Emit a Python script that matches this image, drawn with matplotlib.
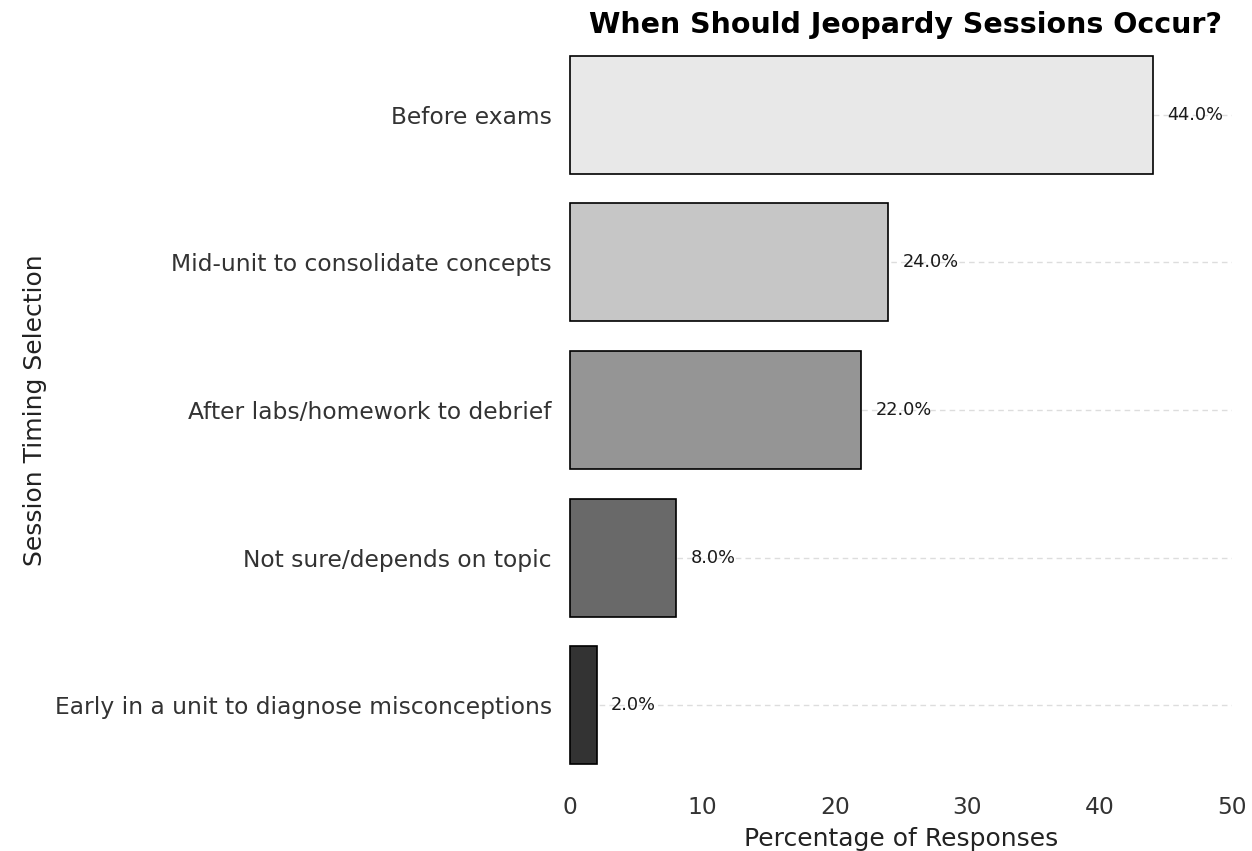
import matplotlib
matplotlib.use("Agg")
import matplotlib.pyplot as plt

categories = [
    "Early in a unit to diagnose misconceptions",
    "Not sure/depends on topic",
    "After labs/homework to debrief",
    "Mid-unit to consolidate concepts",
    "Before exams",
]
percentages = [2.0, 8.0, 22.0, 24.0, 44.0]
bar_colors = ["#333333", "#696969", "#959595", "#c6c6c6", "#e8e8e8"]
x_ticks = [0, 10, 20, 30, 40, 50]

fig = plt.figure(figsize=(12.52, 8.51), dpi=100)
ax = fig.add_axes([0.4553, 0.0846, 0.5287, 0.8672])

ypos = list(range(len(categories)))
bars = ax.barh(ypos, percentages, height=0.8, color=bar_colors,
               edgecolor="black", linewidth=1.2, zorder=3)
for b in bars:
    b.set_clip_on(False)

for y, v in zip(ypos, percentages):
    ax.text(v + 1.1, y, f"{v:.1f}%", va="center", ha="left",
            fontsize=12.8, color="#1a1a1a", zorder=4)

ax.set_xlim(0, 50)
ax.set_ylim(-0.5, len(categories) - 0.5)
ax.set_xticks(x_ticks)
ax.set_yticks(ypos)
ax.set_yticklabels(categories)

ax.grid(axis="y", linestyle=(0, (4, 3)), color="#dddddd", linewidth=1, zorder=0)
ax.grid(axis="x", visible=False)
for s in ax.spines.values():
    s.set_visible(False)
ax.tick_params(axis="both", length=0, labelsize=16.8, labelcolor="#333333")
ax.tick_params(axis="x", pad=12)
ax.tick_params(axis="y", pad=13)

ax.set_xlabel("Percentage of Responses", fontsize=18, color="#222222", labelpad=6)
ax.set_ylabel("Session Timing Selection", fontsize=18, color="#222222", labelpad=6)
ax.set_title("When Should Jeopardy Sessions Occur?", fontsize=20.5,
             fontweight="bold", pad=6, x=0.5075)

fig.savefig("out.png", dpi=100)
